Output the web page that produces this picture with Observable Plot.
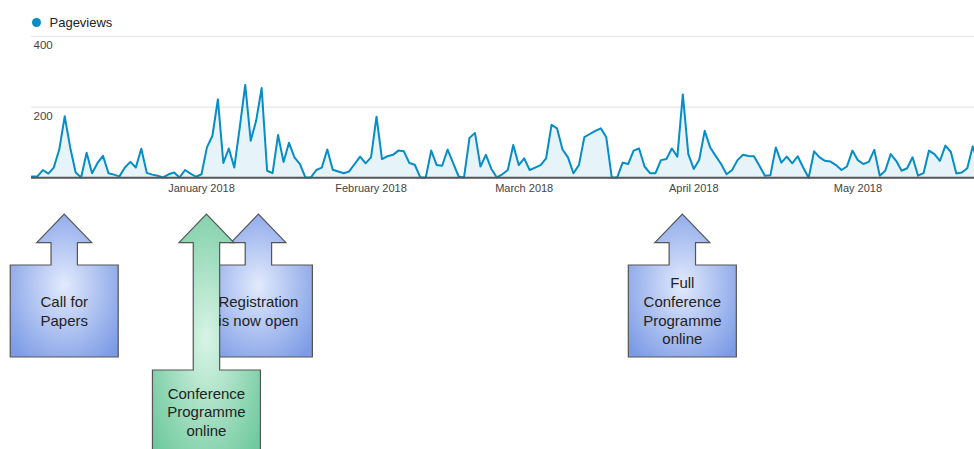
<!DOCTYPE html>
<html>
<head>
<meta charset="utf-8">
<script src="https://cdn.jsdelivr.net/npm/d3@7"></script>
<script src="https://cdn.jsdelivr.net/npm/@observablehq/plot@0.6"></script>
<style>
  html, body { margin: 0; padding: 0; background: #fff; overflow: hidden; }
  #chart { width: 974px; height: 449px; }
</style>
</head>
<body>
<div id="chart"></div>
<script>
// ---- data ----
const seriesName = "Pageviews";
const startDay = "2017-12-01";
const pageviews = [
  4, 4, 22, 12, 29, 80, 174, 86, 15, 1,
  71, 13, 42, 62, 13, 9, 4, 29, 45, 29,
  82, 14, 9, 6, 1, 10, 15, 1, 22, 12,
  3, 10, 86, 119, 222, 42, 83, 29, 143, 263,
  105, 162, 254, 20, 13, 121, 45, 99, 58, 39,
  1, 1, 22, 29, 80, 23, 18, 13, 18, 39,
  60, 41, 58, 173, 53, 61, 65, 77, 75, 42,
  37, 1, 1, 77, 36, 34, 80, 42, 4, 1,
  113, 127, 32, 65, 25, 1, 10, 22, 93, 36,
  55, 22, 29, 36, 55, 150, 140, 80, 58, 13,
  36, 115, 124, 133, 140, 115, 1, 1, 43, 39,
  77, 83, 32, 13, 13, 50, 53, 83, 60, 236,
  67, 25, 51, 133, 86, 62, 39, 10, 22, 50,
  65, 62, 61, 34, 6, 7, 86, 43, 60, 41,
  61, 29, 0, 75, 58, 48, 46, 36, 22, 32,
  77, 50, 39, 45, 79, 6, 20, 67, 48, 20,
  27, 58, 6, 13, 77, 67, 48, 91, 73, 12,
  15, 27, 89, 40
];
const monthTicks = ["2018-01-01", "2018-02-01", "2018-03-01", "2018-04-01", "2018-05-01"];
const yTicks = [200, 400];

const calloutLabels = [
  ["Call for", "Papers"],
  ["Registration", "is now open"],
  ["Conference", "Programme", "online"],
  ["Full", "Conference", "Programme", "online"]
];
const calloutDates = ["2017-12-07", "2018-01-11T12:00", "2018-01-02", "2018-03-30"];
const calloutKinds = ["blue", "blue", "green", "blue"];

// ---- table ----
const start = new Date(startDay);
const table = pageviews.map((v, i) => ({date: d3.utcDay.offset(start, i), views: v}));
const monthDates = monthTicks.map(d => new Date(d));
const fmtMonth = d3.utcFormat("%B %Y");

// ---- layout constants ----
const dayPx = 5.47, x0 = 31.4;
const lastIndex = pageviews.length - 1;

const font = "'Liberation Sans', Arial, Helvetica, sans-serif";
const blue = "#058DC7";

const plot = Plot.plot({
  width: 974,
  height: 449,
  marginLeft: 31,
  marginRight: 0,
  marginTop: 0,
  marginBottom: 0,
  style: {fontFamily: font, background: "#fff", overflow: "hidden"},
  x: {type: "utc", domain: [start, d3.utcDay.offset(start, lastIndex)], range: [x0, x0 + lastIndex * dayPx], axis: null},
  y: {domain: [0, 400], range: [177.3, 36], axis: null},
  r: {type: "identity"},
  marks: [
    Plot.ruleY(yTicks, {y: d => d, stroke: "#e6e6e6", strokeWidth: 1.2}),
    Plot.text(yTicks, {y: d => d, text: d => String(d), frameAnchor: "left", textAnchor: "start", lineAnchor: "middle", dx: 2, dy: 9, fill: "#444", fontSize: 11.5}),
    Plot.areaY(table, {x: "date", y: "views", fill: blue, fillOpacity: 0.1, clip: true}),
    Plot.lineY(table, {x: "date", y: "views", stroke: blue, strokeWidth: 2, clip: true}),
    Plot.ruleY([0], {stroke: "#555", strokeWidth: 2}),
    Plot.text(monthDates, {x: d => d, y: () => 0, dy: 11, lineAnchor: "middle", text: d => fmtMonth(d), fill: "#444", fontSize: 11}),
    Plot.dot([seriesName], {frameAnchor: "top-left", dx: 5, dy: 22, r: 4.5, fill: blue, stroke: "none"}),
    Plot.text([seriesName], {frameAnchor: "top-left", dx: 18, dy: 22.5, lineAnchor: "middle", text: d => d, textAnchor: "start", fontSize: 13, fill: "#222"})
  ]
});

// ---- callouts (positioned horizontally by event date through the x scale) ----
const xs = plot.scale("x");
const svg = d3.select(plot);
const defs = svg.append("defs");
const gradStops = {
  blue: ["#e2eafc", "#7b9be6"],
  green: ["#d8f4e6", "#6cc89b"]
};
Object.entries(gradStops).forEach(([k, [c0, c1]]) => {
  const g = defs.append("radialGradient").attr("id", "grad-" + k)
    .attr("cx", "50%").attr("cy", "50%").attr("r", "65%");
  g.append("stop").attr("offset", "0%").attr("stop-color", c0);
  g.append("stop").attr("offset", "100%").attr("stop-color", c1);
});

const geom = {
  tipY: 214, headY: 242.7, headHalf: 27.5, shaftHalf: 13.2, boxHalf: 54,
  normal: {top: 265, bottom: 357, textCenter: 311},
  low: {top: 370, bottom: 464, textCenter: 412}
};
const lineHeight = 18.6;

function calloutPath(tx, box) {
  const g = geom;
  const pts = [
    [tx - g.boxHalf, box.bottom], [tx - g.boxHalf, box.top], [tx - g.shaftHalf, box.top],
    [tx - g.shaftHalf, g.headY], [tx - g.headHalf, g.headY], [tx, g.tipY],
    [tx + g.headHalf, g.headY], [tx + g.shaftHalf, g.headY], [tx + g.shaftHalf, box.top],
    [tx + g.boxHalf, box.top], [tx + g.boxHalf, box.bottom]
  ];
  return "M" + pts.map(p => p.join(",")).join("L") + "Z";
}

const shapes = svg.append("g");
const texts = svg.append("g").attr("font-family", font).attr("font-size", 15).attr("fill", "#222").attr("text-anchor", "middle");
calloutLabels.forEach((lines, i) => {
  const tx = xs.apply(new Date(calloutDates[i]));
  const box = calloutKinds[i] === "green" ? geom.low : geom.normal;
  shapes.append("path").attr("d", calloutPath(tx, box))
    .attr("fill", `url(#grad-${calloutKinds[i]})`)
    .attr("stroke", "#555").attr("stroke-width", 1.2).attr("stroke-linejoin", "miter");
  const first = box.textCenter - (lines.length - 1) * lineHeight / 2;
  lines.forEach((t, j) => {
    texts.append("text").attr("x", tx).attr("y", first + j * lineHeight).attr("dy", "0.35em").text(t);
  });
});

document.getElementById("chart").appendChild(plot);
</script>
</body>
</html>
